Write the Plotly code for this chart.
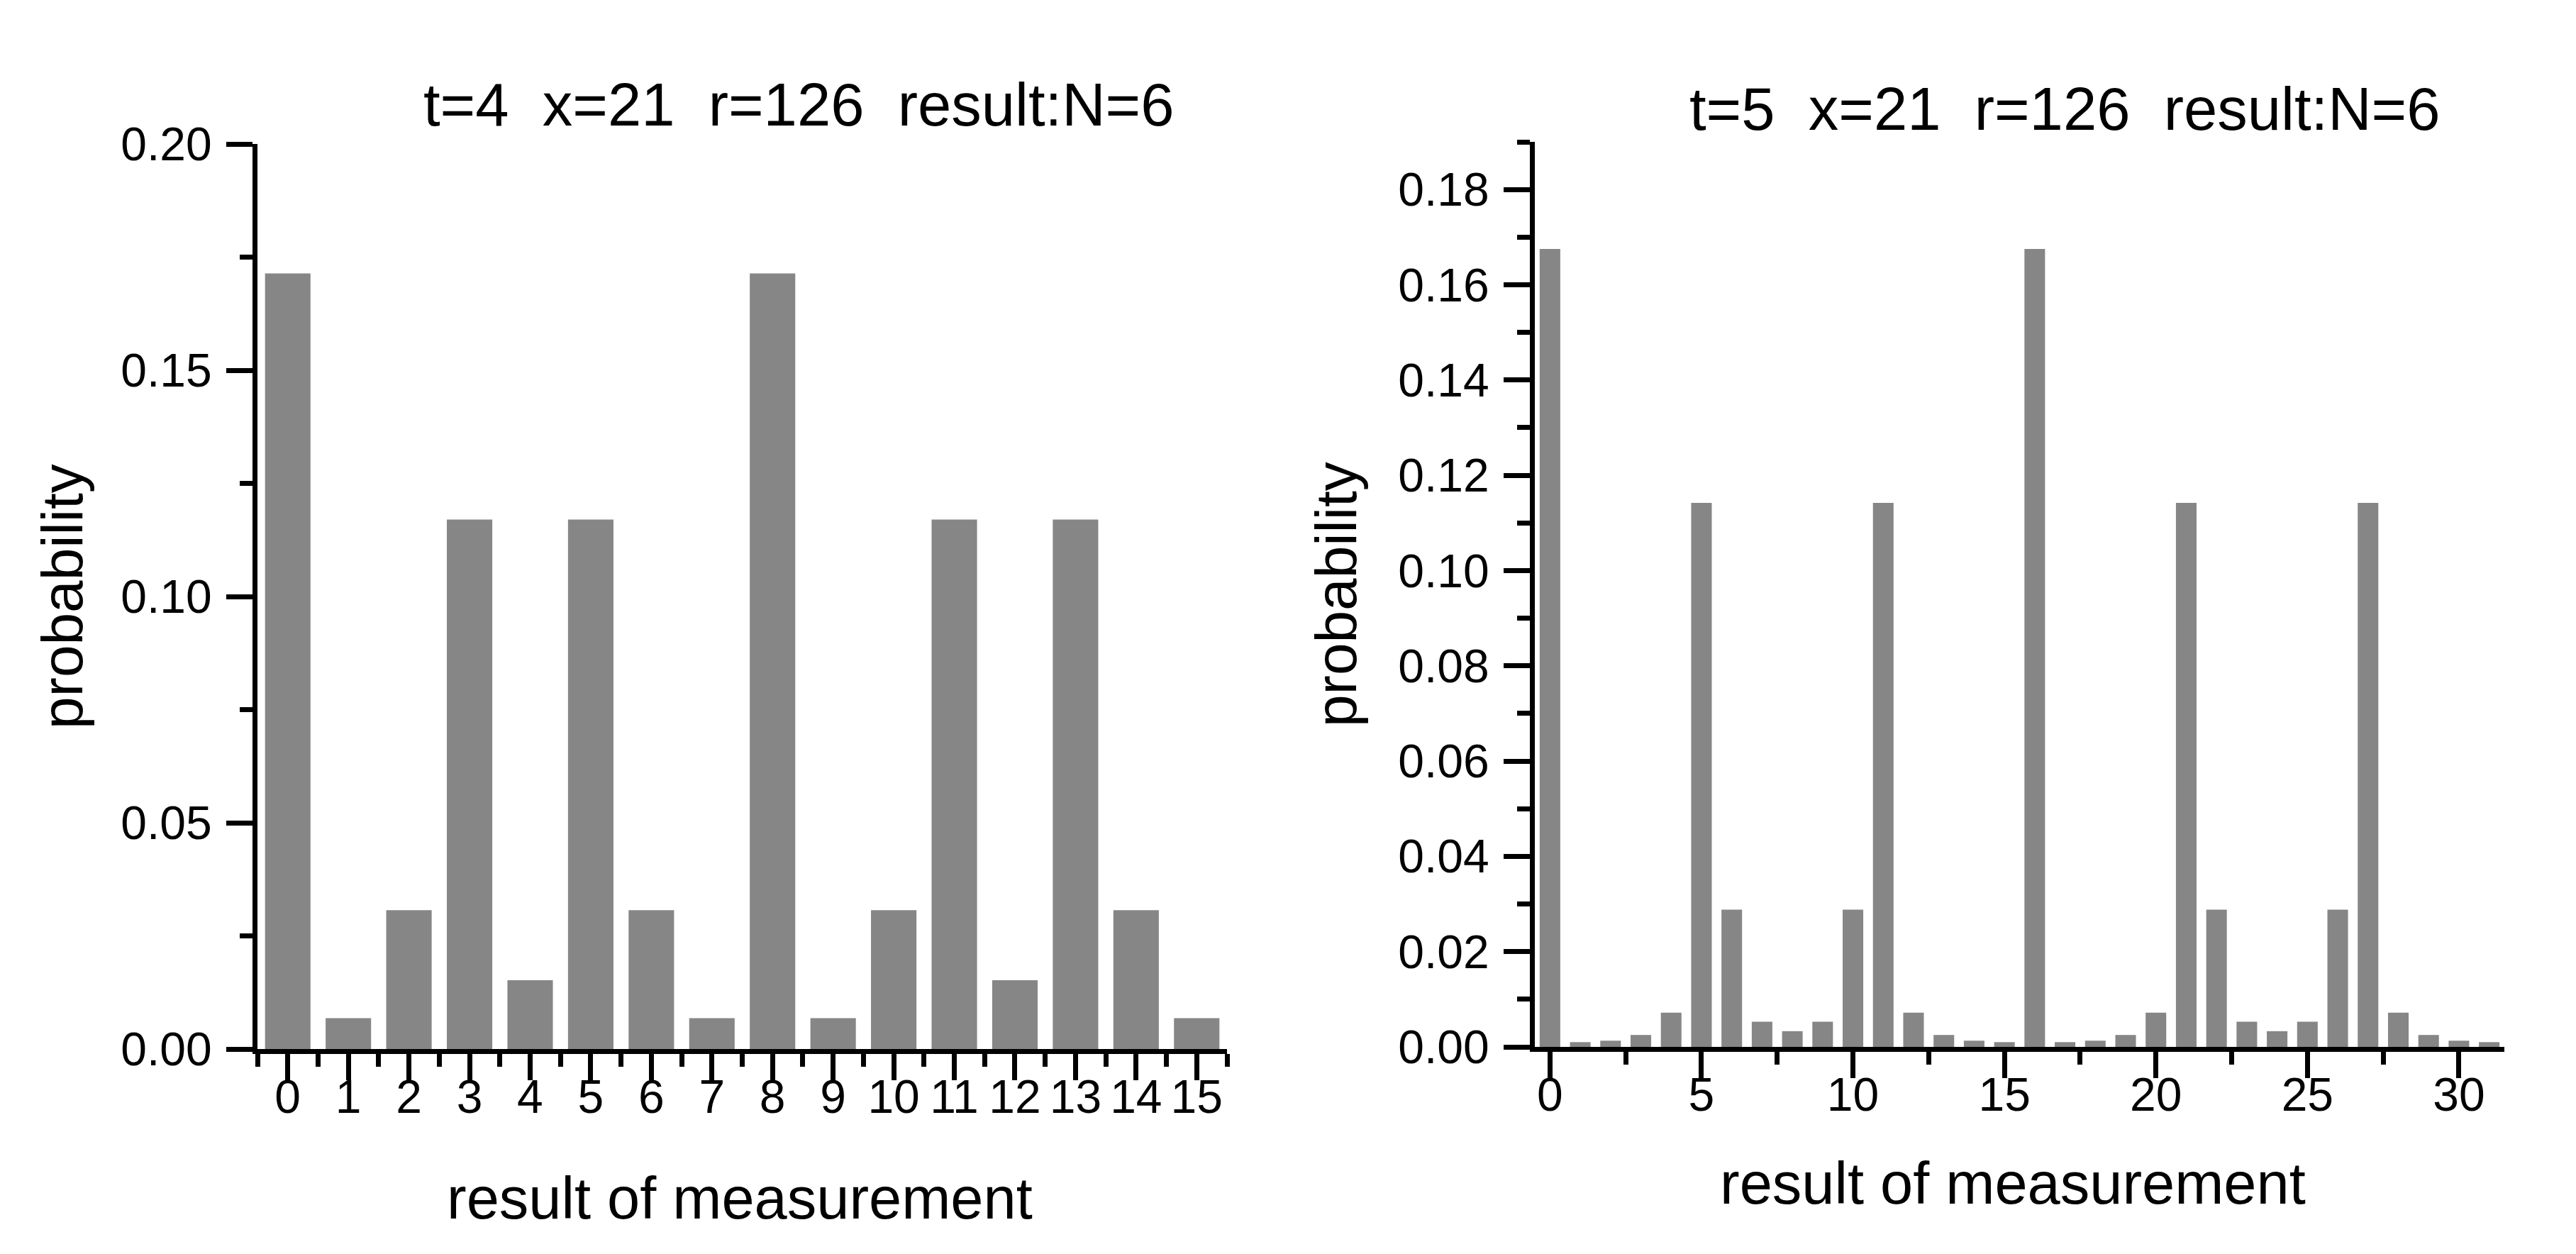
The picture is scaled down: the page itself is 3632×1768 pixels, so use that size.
import plotly.graph_objects as go
from plotly.subplots import make_subplots

left_x = list(range(16))
left_prob = [0.1714, 0.0068, 0.0307, 0.1170, 0.0152, 0.1170, 0.0307, 0.0068,
             0.1714, 0.0068, 0.0307, 0.1170, 0.0152, 0.1170, 0.0307, 0.0068]

right_x = list(range(32))
right_prob = [0.1675, 0.0010, 0.0013, 0.0025, 0.0072, 0.1142, 0.0288, 0.0053,
              0.0033, 0.0053, 0.0288, 0.1142, 0.0072, 0.0025, 0.0013, 0.0010,
              0.1675, 0.0010, 0.0013, 0.0025, 0.0072, 0.1142, 0.0288, 0.0053,
              0.0033, 0.0053, 0.0288, 0.1142, 0.0072, 0.0025, 0.0013, 0.0010]

left_title = "t=4  x=21  r=126  result:N=6"
right_title = "t=5  x=21  r=126  result:N=6"
x_label = "result of measurement"
y_label = "probability"

W, H = 3632, 1768
FONT = "Arial, 'Liberation Sans', sans-serif"
BAR = "#868686"


def px(x):
    return x / W


def py(y):
    return 1 - y / H


fig = make_subplots(rows=1, cols=2)

fig.add_trace(go.Bar(x=left_x, y=left_prob, marker_color=BAR, marker_line_width=0,
                     width=0.75, showlegend=False), row=1, col=1)
fig.add_trace(go.Bar(x=right_x, y=right_prob, marker_color=BAR, marker_line_width=0,
                     width=0.68, showlegend=False), row=1, col=2)

minor_style = dict(ticks="outside", ticklen=18, tickwidth=7, tickcolor="black")

axis_style = dict(
    showline=True, linecolor="black", linewidth=7, mirror=False,
    showgrid=False, zeroline=False, automargin=False,
    ticks="outside", ticklen=37, tickwidth=7, tickcolor="black",
    tickfont=dict(family=FONT, size=66, color="black"),
)

fig.update_xaxes(**axis_style, ticklabelstandoff=-33)
fig.update_yaxes(**axis_style, ticklabelstandoff=7)

fig.update_layout(
    xaxis=dict(domain=[px(355), px(1722)], range=[-0.5, 15.5],
               tickmode="linear", tick0=0, dtick=1,
               minor=dict(**minor_style, tick0=0.5, dtick=1)),
    yaxis=dict(domain=[py(1471), py(195)], range=[0, 0.2],
               tickmode="linear", tick0=0, dtick=0.05, tickformat=".2f",
               minor=dict(**minor_style, tick0=0, dtick=0.025)),
    xaxis2=dict(domain=[px(2156), px(3523)], range=[-0.5, 31.5],
                tickmode="linear", tick0=0, dtick=5,
                minor=dict(**minor_style, tick0=0, dtick=2.5)),
    yaxis2=dict(domain=[py(1468), py(192)], range=[0, 0.19],
                tickmode="linear", tick0=0, dtick=0.02, tickformat=".2f",
                minor=dict(**minor_style, tick0=0, dtick=0.01)),
    width=W, height=H,
    margin=dict(l=0, r=0, t=0, b=0),
    paper_bgcolor="white", plot_bgcolor="white",
    font=dict(family=FONT, color="black"),
)

# panel titles and axis titles, placed in figure pixels
notes = [
    (left_title, 1118, 140, 0, 85),
    (right_title, 2903, 145, 0, 85),
    (x_label, 1035, 1681, 0, 83),
    (x_label, 2830, 1660, 0, 83),
    (y_label, 79, 833, -90, 82),
    (y_label, 1875, 830, -90, 82),
]
for text, x, y, ang, size in notes:
    fig.add_annotation(text=text, x=px(x), y=py(y), xref="paper", yref="paper",
                       xanchor="center", yanchor="middle", showarrow=False,
                       textangle=ang, font=dict(family=FONT, size=size, color="black"))

fig.write_html("out.html")
